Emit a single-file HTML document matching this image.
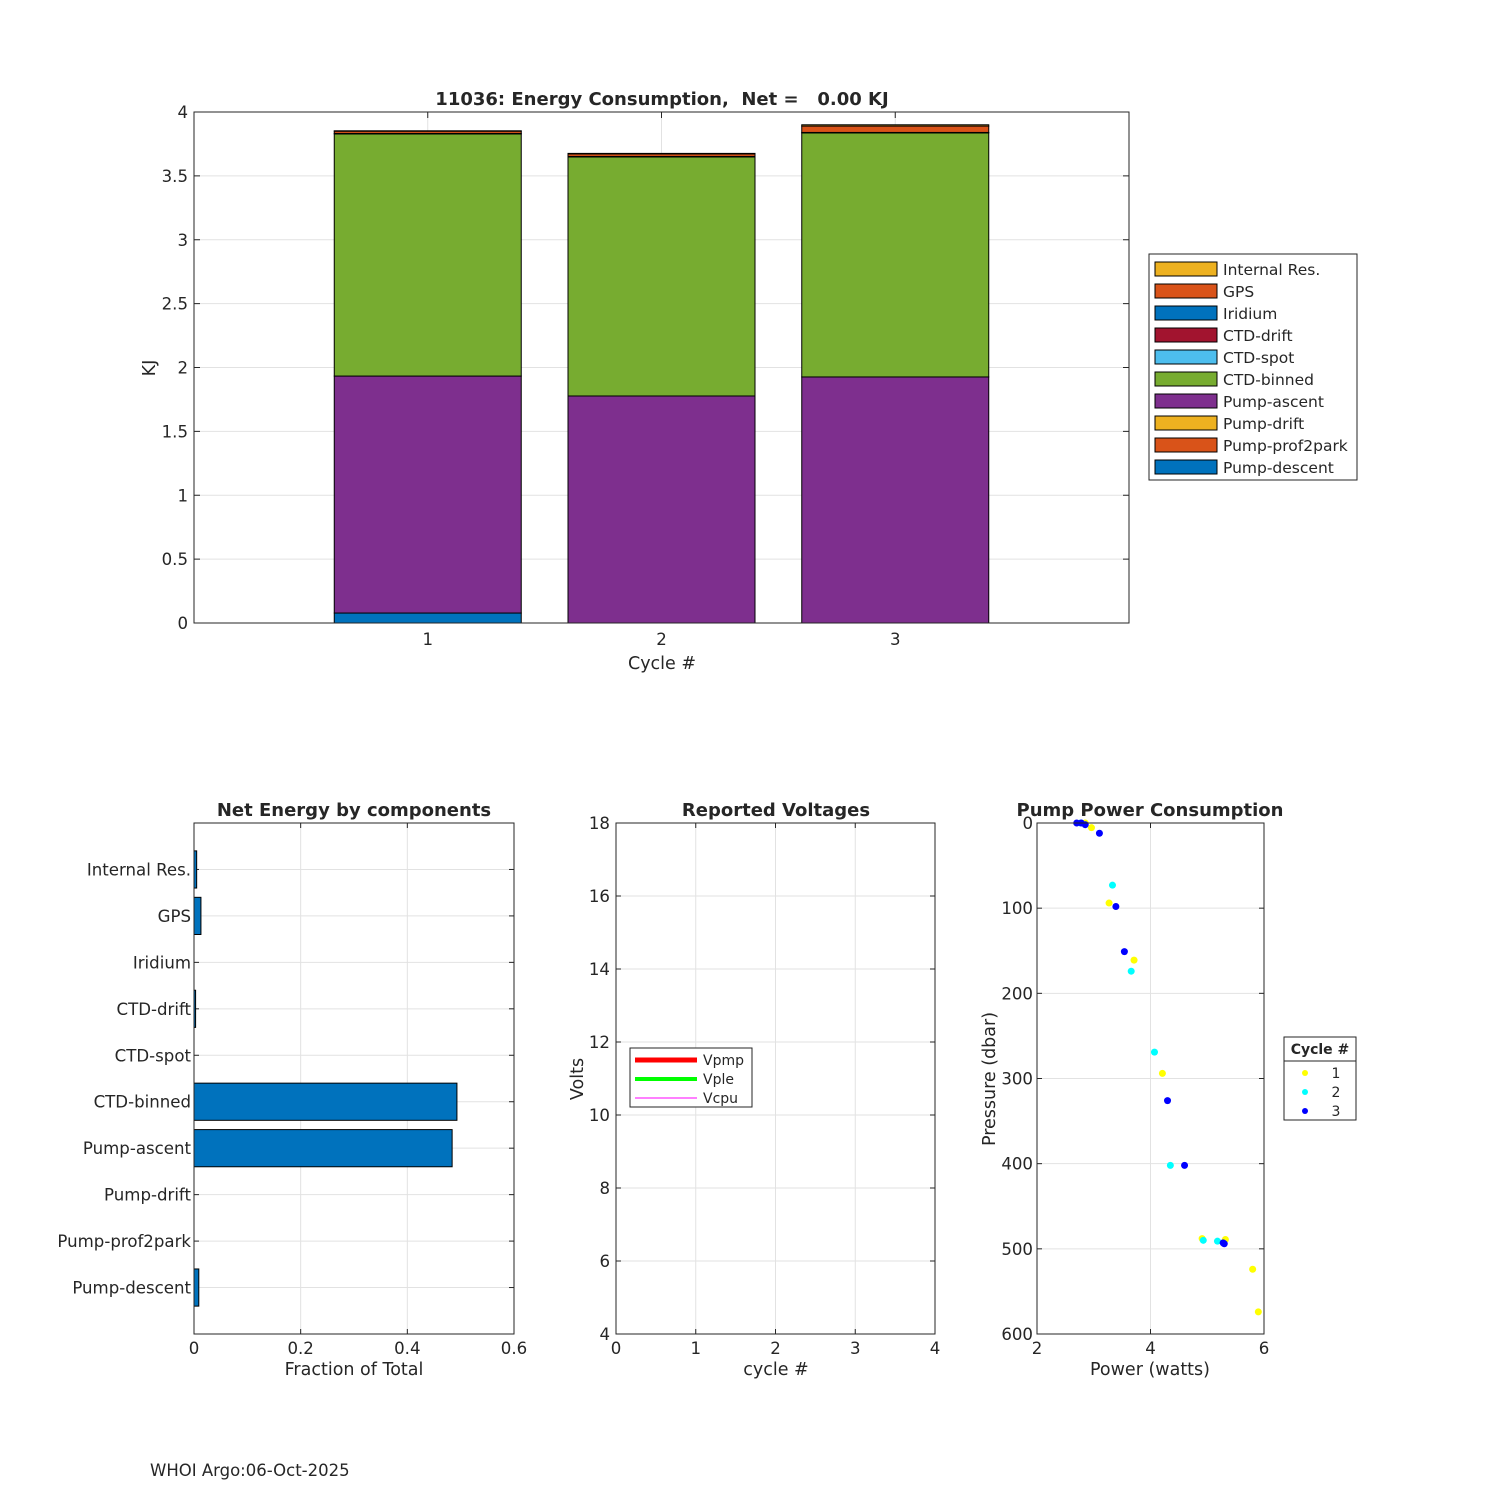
<!DOCTYPE html>
<html><head><meta charset="utf-8"><style>
body{margin:0;background:#fff;font-family:"Liberation Sans","DejaVu Sans",sans-serif}
svg text{font-family:"DejaVu Sans","Liberation Sans",sans-serif;white-space:pre}
</style></head><body>
<svg id="s" width="1500" height="1500" xmlns="http://www.w3.org/2000/svg">
<rect width="1500" height="1500" fill="#fff"/>
</svg>
<script>
// ---- Top stacked bar data ----
const cycles=[1,2,3];
const compNames=["Pump-descent","Pump-prof2park","Pump-drift","Pump-ascent","CTD-binned","CTD-spot","CTD-drift","Iridium","GPS","Internal Res."];
const compColors=["#0072BD","#D95319","#EDB120","#7E2F8E","#77AC30","#4DBEEE","#A2142F","#0072BD","#D95319","#EDB120"];
const c1=[0.078,0,0,1.855,1.895,0,0.004,0,0.018,0.003];
const c2=[0,0,0,1.777,1.871,0,0.004,0,0.02,0.004];
const c3=[0,0,0,1.926,1.91,0,0.004,0,0.05,0.01];
const yTicksTop=[0,0.5,1,1.5,2,2.5,3,3.5,4];
// ---- Net energy fraction ----
const fracNames=["Pump-descent","Pump-prof2park","Pump-drift","Pump-ascent","CTD-binned","CTD-spot","CTD-drift","Iridium","GPS","Internal Res."];
const fracVals=[0.009,0,0,0.484,0.493,0,0.003,0,0.013,0.005];
const fracTicks=[0,0.2,0.4,0.6];
// ---- Voltages ----
const voltXTicks=[0,1,2,3,4];
const voltYTicks=[4,6,8,10,12,14,16,18];
// ---- Pump power ----
const p1W=[2.85,2.96,3.27,3.71,4.21,4.91,5.32,5.80,5.90];
const p1P=[0,5.5,94,161,294,488,489,524,574];
const p2W=[2.77,3.33,3.66,4.07,4.35,4.93,5.18];
const p2P=[0,73,174,269,402,490,491];
const p3W=[2.70,2.78,2.85,3.10,3.39,3.54,4.30,4.60,5.28,5.30];
const p3P=[0,0,2,12,98,151,326,402,493,494];
const pwTicks=[2,4,6];
const prTicks=[0,100,200,300,400,500,600];

const S=document.getElementById('s');
const NS="http://www.w3.org/2000/svg";
const FS=16.6;
function el(t,a,txt){const e=document.createElementNS(NS,t);for(const k in a)e.setAttribute(k,a[k]);if(txt!==undefined)e.textContent=txt;S.appendChild(e);return e;}
function txt(x,y,s,anchor,size,weight,name){const e=el('text',{x:x,y:y,'text-anchor':anchor||'middle','font-size':size||FS,'font-weight':weight||'normal',fill:'#262626'},s);
e.setAttribute('xml:space','preserve');

return e;}
function axbox(x0,y0,x1,y1,name){const r=el('rect',{x:x0,y:y0,width:x1-x0,height:y1-y0,fill:'none',stroke:'#262626','stroke-width':1});

}
function grid(x1,y1,x2,y2){const l=el('line',{x1:x1,y1:y1,x2:x2,y2:y2,stroke:'#e2e2e2','stroke-width':1});

}
function tick(x1,y1,x2,y2){const l=el('line',{x1:x1,y1:y1,x2:x2,y2:y2,stroke:'#262626','stroke-width':1});

}

// ===== TOP =====
{const X0=194,X1=1129,Y0=112,Y1=623;
const xs=v=>X0+(v/4)*(X1-X0), ys=v=>Y1-(v/4)*(Y1-Y0);
yTicksTop.forEach(v=>{grid(X0,ys(v),X1,ys(v));tick(X0,ys(v),X0+6,ys(v));tick(X1,ys(v),X1-6,ys(v));txt(X0-6,ys(v)+6,String(v),'end',FS,'normal','y-tick-label');});
cycles.forEach(v=>{grid(xs(v),Y0,xs(v),Y1);tick(xs(v),Y1,xs(v),Y1-6);tick(xs(v),Y0,xs(v),Y0+6);txt(xs(v),Y1+22,String(v),'middle',FS,'normal','x-tick-label');});
[c1,c2,c3].forEach((arr,i)=>{let base=0;const cx=cycles[i];
arr.forEach((v,j)=>{if(v<=0)return;const r=el('rect',{x:xs(cx-0.4),y:ys(base+v),width:xs(cx+0.4)-xs(cx-0.4),height:ys(base)-ys(base+v),fill:compColors[j],stroke:'#000','stroke-width':1});

base+=v;});});
axbox(X0,Y0,X1,Y1,'top-axes');
txt(662,105,'11036: Energy Consumption,  Net =   0.00 KJ','middle',18,'bold','top-title');
txt(662,669,'Cycle #','middle',17.5,'normal','top-x-axis-title');
const yl=txt(155,368,'KJ','middle',17.5,'normal','top-y-axis-title');yl.setAttribute('transform','rotate(-90 155 368)');
const lb=el('rect',{x:1149,y:254,width:208,height:226,fill:'#fff',stroke:'#262626'});


for(let k=0;k<10;k++){const j=9-k;const y=262+k*22;
const r=el('rect',{x:1155,y:y,width:62,height:14,fill:compColors[j],stroke:'#000'});


txt(1223,y+13,compNames[j],'start',15.5,'normal','legend-entry');}
}

// ===== BOTTOM LEFT =====
{const X0=194,X1=514,Y0=823,Y1=1334;
const xs=v=>X0+(v/0.6)*(X1-X0), ys=v=>Y1-(v/11)*(Y1-Y0);
fracTicks.forEach(v=>{grid(xs(v),Y0,xs(v),Y1);tick(xs(v),Y1,xs(v),Y1-5);tick(xs(v),Y0,xs(v),Y0+5);txt(xs(v),Y1+20,String(v),'middle',FS,'normal','x-tick-label');});
fracNames.forEach((n,i)=>{const y=ys(i+1);grid(X0,y,X1,y);tick(X0,y,X0+5,y);tick(X1,y,X1-5,y);txt(X0-3,y+6,n,'end',FS,'normal','y-tick-label');
const v=fracVals[i];if(v>0){const r=el('rect',{x:X0,y:ys(i+1.4),width:xs(v)-X0,height:ys(i+0.6)-ys(i+1.4),fill:'#0072BD',stroke:'#000','stroke-width':1});

}});
axbox(X0,Y0,X1,Y1,'fraction-axes');
txt(354,816,'Net Energy by components','middle',18,'bold','fraction-title');
txt(354,1375,'Fraction of Total','middle',17.5,'normal','fraction-x-axis-title');
}

// ===== BOTTOM MIDDLE =====
{const X0=616,X1=935,Y0=823,Y1=1334;
const xs=v=>X0+(v/4)*(X1-X0), ys=v=>Y1-((v-4)/14)*(Y1-Y0);
voltXTicks.forEach(v=>{grid(xs(v),Y0,xs(v),Y1);tick(xs(v),Y1,xs(v),Y1-5);tick(xs(v),Y0,xs(v),Y0+5);txt(xs(v),Y1+20,String(v),'middle',FS,'normal','x-tick-label');});
voltYTicks.forEach(v=>{grid(X0,ys(v),X1,ys(v));tick(X0,ys(v),X0+5,ys(v));tick(X1,ys(v),X1-5,ys(v));txt(X0-6,ys(v)+6,String(v),'end',FS,'normal','y-tick-label');});
axbox(X0,Y0,X1,Y1,'voltage-axes');
txt(776,816,'Reported Voltages','middle',18,'bold','voltage-title');
txt(776,1375,'cycle #','middle',17.5,'normal','voltage-x-axis-title');
const yl=txt(583,1079,'Volts','middle',17.5,'normal','voltage-y-axis-title');yl.setAttribute('transform','rotate(-90 583 1079)');
const lb=el('rect',{x:630,y:1048,width:122,height:59,fill:'#fff',stroke:'#262626'});


[['Vpmp','#ff0000',5],['Vple','#00ff00',4],['Vcpu','#ff00ff',1]].forEach((d,i)=>{const y=1060+i*19;
const l=el('line',{x1:635,y1:y,x2:697,y2:y,stroke:d[1],'stroke-width':d[2]});


txt(703,y+5,d[0],'start',14,'normal','legend-entry');});
}

// ===== BOTTOM RIGHT =====
{const X0=1037,X1=1264,Y0=823,Y1=1334;
const xs=v=>X0+((v-2)/4)*(X1-X0), ys=v=>Y0+(v/600)*(Y1-Y0);
pwTicks.forEach(v=>{grid(xs(v),Y0,xs(v),Y1);tick(xs(v),Y1,xs(v),Y1-5);tick(xs(v),Y0,xs(v),Y0+5);txt(xs(v),Y1+20,String(v),'middle',FS,'normal','x-tick-label');});
prTicks.forEach(v=>{grid(X0,ys(v),X1,ys(v));tick(X0,ys(v),X0+5,ys(v));tick(X1,ys(v),X1-5,ys(v));txt(X0-4,ys(v)+6,String(v),'end',FS,'normal','y-tick-label');});
[[p1W,p1P,'#ffff00','1'],[p2W,p2P,'#00ffff','2'],[p3W,p3P,'#0000ff','3']].forEach(s=>{
s[0].forEach((w,i)=>{const c=el('circle',{cx:xs(w),cy:ys(s[1][i]),r:3.5,fill:s[2]});

});});
axbox(X0,Y0,X1,Y1,'pump-axes');
txt(1150,816,'Pump Power Consumption','middle',18,'bold','pump-title');
txt(1150,1375,'Power (watts)','middle',17.5,'normal','pump-x-axis-title');
const yl=txt(995,1079,'Pressure (dbar)','middle',17.5,'normal','pump-y-axis-title');yl.setAttribute('transform','rotate(-90 995 1079)');
const lb=el('rect',{x:1284,y:1037,width:72,height:83,fill:'#fff',stroke:'#262626'});


const ln=el('line',{x1:1284,y1:1061,x2:1356,y2:1061,stroke:'#262626'});


txt(1320,1054,'Cycle #','middle',14,'bold','legend-title');
[['#ffff00','1'],['#00ffff','2'],['#0000ff','3']].forEach((d,i)=>{const y=1073+i*19;
const c=el('circle',{cx:1305,cy:y,r:3,fill:d[0]});


txt(1336,y+5,d[1],'middle',14,'normal','legend-entry');});
}
txt(150,1476,'WHOI Argo:06-Oct-2025','start',16.5,'normal','footer-date');
</script>
</body></html>
